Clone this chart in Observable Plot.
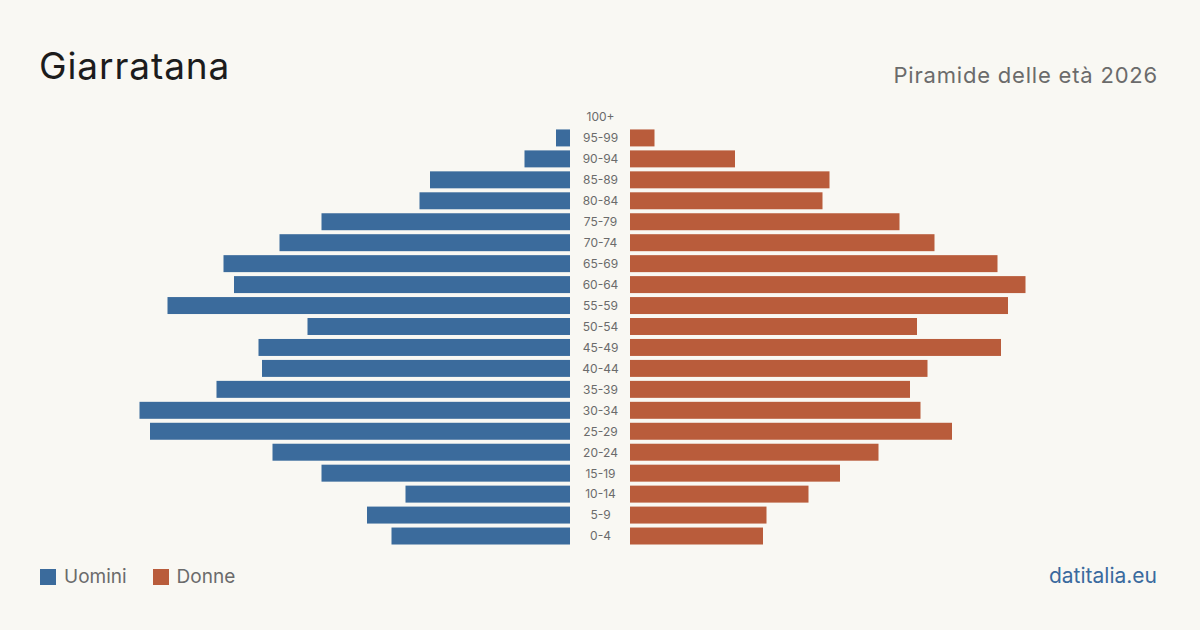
<!DOCTYPE html>
<html>
<head>
<meta charset="utf-8">
<script src="https://cdn.jsdelivr.net/npm/d3@7"></script>
<script src="https://cdn.jsdelivr.net/npm/@observablehq/plot@0.6"></script>
<style>
  html, body { margin: 0; padding: 0; background: #f9f8f3; }
  body { width: 1200px; height: 630px; position: relative; overflow: hidden; font-family: Inter, "Liberation Sans", sans-serif; }
  #title { position: absolute; left: 39px; top: 43px; font-size: 37px; color: #1c1c1c; letter-spacing: 0.9px; }
  #subtitle { position: absolute; right: 42px; top: 62px; font-size: 22px; color: #6b6b6b; letter-spacing: 0.8px; }
  #chart { position: absolute; left: 0; top: 0; }
  #legend { position: absolute; left: 40px; top: 565px; font-size: 19px; color: #6b6b6b; display: flex; align-items: center; }
  #legend .sw { width: 16px; height: 16px; display: inline-block; margin-right: 8px; }
  #legend .item { display: flex; align-items: center; margin-right: 26px; }
  #source { position: absolute; right: 43px; top: 563px; font-size: 21px; color: #3a6a9e; }
</style>
</head>
<body>
<div id="title">Giarratana</div>
<div id="subtitle">Piramide delle età 2026</div>
<div id="chart"></div>
<div id="legend"></div>
<div id="source">datitalia.eu</div>
<script>
const ageGroups = ["100+","95-99","90-94","85-89","80-84","75-79","70-74","65-69","60-64","55-59","50-54","45-49","40-44","35-39","30-34","25-29","20-24","15-19","10-14","5-9","0-4"];
const men   = [0, 4, 13, 40, 43, 71, 83, 99, 96, 115, 75, 89, 88, 101, 123, 120, 85, 71, 47, 58, 51];
const women = [0, 7, 30, 57, 55, 77, 87, 105, 113, 108, 82, 106, 85, 80, 83, 92, 71, 60, 51, 39, 38];
const seriesNames = ["Uomini", "Donne"];
const colors = ["#3b6b9c", "#b95c3b"];

const menData = ageGroups.map((a, i) => ({age: a, value: men[i]}));
const womenData = ageGroups.map((a, i) => ({age: a, value: women[i]}));

const chart = Plot.plot({
  width: 1200,
  height: 630,
  marginTop: 106.5,
  marginBottom: 83.5,
  marginLeft: 40,
  marginRight: 40,
  style: {background: "transparent", fontFamily: "Inter, 'Liberation Sans', sans-serif"},
  x: {domain: [-160, 160], axis: null},
  y: {domain: ageGroups, axis: null, paddingInner: 0.19, paddingOuter: 0.095, round: false},
  marks: [
    Plot.barX(menData, {y: "age", x1: d => -d.value, x2: 0, dx: -30, fill: colors[0]}),
    Plot.barX(womenData, {y: "age", x1: 0, x2: d => d.value, dx: 30, fill: colors[1]}),
    Plot.text(ageGroups, {y: d => d, x: 0, text: d => d, textAnchor: "middle", fill: "#6b6b6b", fontSize: 12, letterSpacing: "0.3px"})
  ]
});
document.getElementById("chart").appendChild(chart);

const legend = document.getElementById("legend");
seriesNames.forEach((n, i) => {
  const it = document.createElement("span");
  it.className = "item";
  it.innerHTML = `<span class="sw" style="background:${colors[i]}"></span>${n}`;
  legend.appendChild(it);
});
</script>
</body>
</html>
